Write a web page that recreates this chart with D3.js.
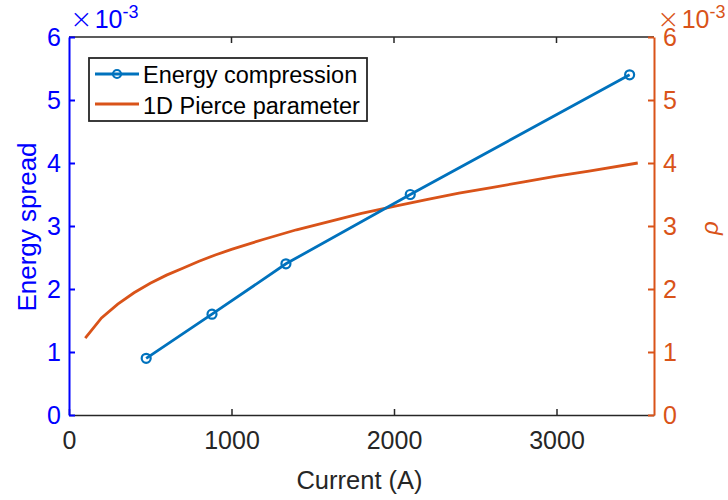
<!DOCTYPE html>
<html><head><meta charset="utf-8">
<script src="https://cdn.jsdelivr.net/npm/d3@7"></script>
<style>body{margin:0;background:#fff;} text{font-family:"Liberation Sans",Arial,sans-serif;}</style>
</head><body>
<svg id="c" width="728" height="500"></svg>
<script>
const currentEC = [475, 880, 1335, 2100, 3450];
const spreadEC = [0.9e-3, 1.6e-3, 2.4e-3, 3.5e-3, 5.4e-3];
const currentRho = [100, 200, 300, 400, 500, 600, 700, 800, 900, 1000, 1200, 1400, 1600, 1800, 2000, 2200, 2400, 2600, 2800, 3000, 3200, 3500];
const rhoVals = [1.22e-3, 1.54e-3, 1.76e-3, 1.94e-3, 2.09e-3, 2.22e-3, 2.33e-3, 2.44e-3, 2.54e-3, 2.63e-3, 2.79e-3, 2.94e-3, 3.07e-3, 3.20e-3, 3.31e-3, 3.42e-3, 3.52e-3, 3.61e-3, 3.70e-3, 3.79e-3, 3.87e-3, 4.00e-3];
const xTicks = [0, 1000, 2000, 3000];
const yTicks = [0, 1e-3, 2e-3, 3e-3, 4e-3, 5e-3, 6e-3];
const legendLabels = ["Energy compression", "1D Pierce parameter"];

const L = 69, R = 654, T = 37, B = 415;
const svg = d3.select("#c");
const x = d3.scaleLinear().domain([0, 3600]).range([L, R]);
const yL = d3.scaleLinear().domain([0, 6e-3]).range([B, T]);
const yR = d3.scaleLinear().domain([0, 6e-3]).range([B, T]);
const blueAx = "#0000FF", orange = "#D95319", lineBlue = "#0072BD", dark = "#262626";
const FS = 25;

// top border
svg.append("line").attr("x1", L).attr("x2", R).attr("y1", T).attr("y2", T).attr("stroke", dark).attr("stroke-width", 1.5);

// x axis
const xa = svg.append("g").attr("transform", `translate(0,${B})`)
  .call(d3.axisBottom(x).tickValues(xTicks).tickSizeInner(-6).tickSizeOuter(0).tickPadding(16).tickFormat(d3.format("d")));
xa.select(".domain").attr("stroke", dark).attr("stroke-width", 1.5);
xa.selectAll(".tick line").attr("stroke", dark).attr("stroke-width", 1.5);
xa.selectAll("text").attr("fill", dark).attr("font-size", FS).attr("dy", "0.71em");
// top ticks
svg.append("g").selectAll("line").data(xTicks.slice(1)).join("line")
  .attr("x1", d => x(d)).attr("x2", d => x(d)).attr("y1", T).attr("y2", T + 6).attr("stroke", dark).attr("stroke-width", 1.5);

// left axis
const yla = svg.append("g").attr("transform", `translate(${L},0)`)
  .call(d3.axisLeft(yL).tickValues(yTicks).tickSizeInner(-6).tickSizeOuter(0).tickPadding(8).tickFormat(d => d3.format("d")(Math.round(d * 1000))));
yla.select(".domain").attr("stroke", blueAx).attr("stroke-width", 2);
yla.selectAll(".tick line").attr("stroke", blueAx).attr("stroke-width", 2);
yla.selectAll("text").attr("fill", blueAx).attr("font-size", FS);

// right axis
const yra = svg.append("g").attr("transform", `translate(${R},0)`)
  .call(d3.axisRight(yR).tickValues(yTicks).tickSizeInner(-6).tickSizeOuter(0).tickPadding(9).tickFormat(d => d3.format("d")(Math.round(d * 1000))));
yra.select(".domain").attr("stroke", orange).attr("stroke-width", 2);
yra.selectAll(".tick line").attr("stroke", orange).attr("stroke-width", 2);
yra.selectAll("text").attr("fill", orange).attr("font-size", FS);

// exponent labels
function expLabel(xp, col) {
  const t = svg.append("text").attr("x", xp).attr("y", 28).attr("fill", col).attr("font-size", 25);
  t.append("tspan").attr("font-family", "DejaVu Sans").attr("font-weight", 200).attr("font-size", 27).text("\u00d7");
  t.append("tspan").attr("dx", 2).text("10");
  t.append("tspan").attr("dy", -10).attr("font-size", 18).text("-3");
}
expLabel(70, blueAx);
expLabel(657, orange);

// axis titles
svg.append("text").attr("x", (L + R) / 2 - 2).attr("y", 489).attr("text-anchor", "middle").attr("fill", dark).attr("font-size", 25.5).text("Current (A)");
svg.append("text").attr("transform", `translate(36,${(T + B) / 2 + 1}) rotate(-90)`).attr("text-anchor", "middle").attr("fill", blueAx).attr("font-size", 26).text("Energy spread");
svg.append("text").attr("transform", `translate(718,${(T + B) / 2 + 2}) rotate(-90)`).attr("text-anchor", "middle").attr("fill", orange).attr("font-size", 24).attr("font-style", "italic").attr("font-family", "DejaVu Serif").text("\u03c1");

// orange line
svg.append("path").datum(currentRho.map((c, i) => [c, rhoVals[i]]))
  .attr("fill", "none").attr("stroke", orange).attr("stroke-width", 2.8)
  .attr("d", d3.line().x(d => x(d[0])).y(d => yR(d[1])));

// blue line
svg.append("path").datum(currentEC.map((c, i) => [c, spreadEC[i]]))
  .attr("fill", "none").attr("stroke", lineBlue).attr("stroke-width", 2.8)
  .attr("d", d3.line().x(d => x(d[0])).y(d => yL(d[1])));
svg.append("g").selectAll("circle").data(currentEC.map((c, i) => [c, spreadEC[i]])).join("circle")
  .attr("cx", d => x(d[0])).attr("cy", d => yL(d[1])).attr("r", 4.5)
  .attr("fill", "none").attr("stroke", lineBlue).attr("stroke-width", 2.2);

// legend
const lg = svg.append("g");
lg.append("rect").attr("x", 89).attr("y", 58).attr("width", 278).attr("height", 63)
  .attr("fill", "#fff").attr("stroke", dark).attr("stroke-width", 1.8);
const rows = [{lab: legendLabels[0], col: lineBlue, marker: true, y: 74, ty: 83}, {lab: legendLabels[1], col: orange, marker: false, y: 104, ty: 114}];
rows.forEach(r => {
  lg.append("line").attr("x1", 95).attr("x2", 139).attr("y1", r.y).attr("y2", r.y).attr("stroke", r.col).attr("stroke-width", 2.8);
  if (r.marker) lg.append("circle").attr("cx", 117).attr("cy", r.y).attr("r", 4).attr("fill", "none").attr("stroke", r.col).attr("stroke-width", 2.2);
  lg.append("text").attr("x", 143).attr("y", r.ty).attr("fill", "#000").attr("font-size", 23.5).text(r.lab);
});
</script>
</body></html>
